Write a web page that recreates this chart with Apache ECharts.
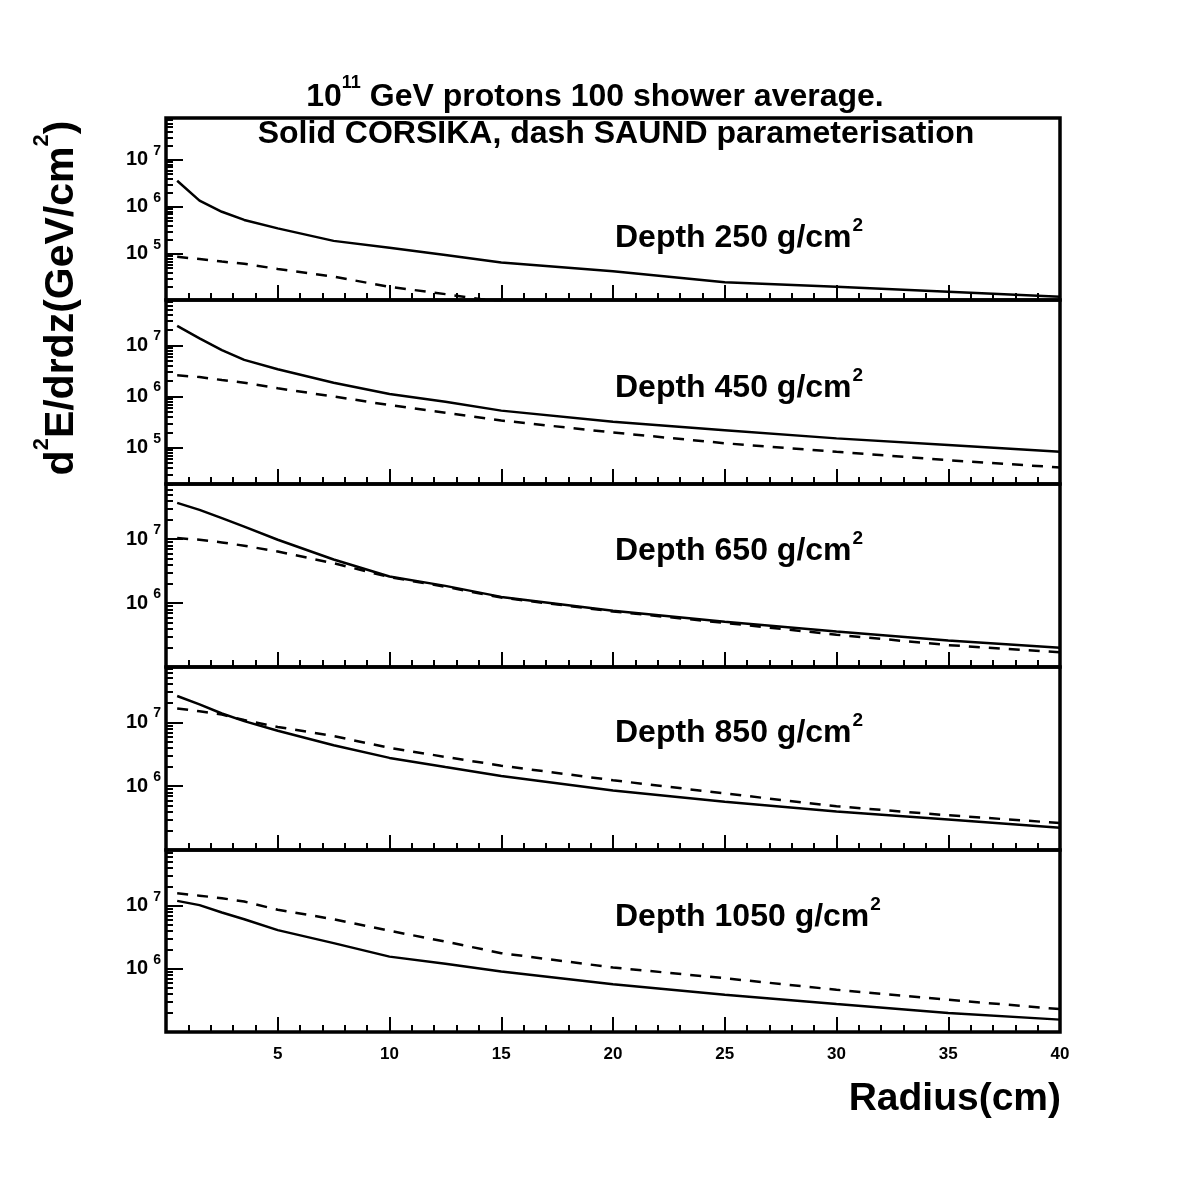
<!DOCTYPE html>
<html>
<head>
<meta charset="utf-8">
<script src="https://cdn.jsdelivr.net/npm/echarts@6/dist/echarts.min.js"></script>
<style>
  html, body { margin: 0; padding: 0; background: #fff; }
  #chart { width: 1181px; height: 1181px; }
</style>
</head>
<body>
<div id="chart"></div>
<script>
// radius sample points (cm)
const radius = [0.5, 1.5, 2.5, 3.5, 5, 7.5, 10, 12.5, 15, 20, 25, 30, 35, 40];
const depths = [250, 450, 650, 850, 1050];

// solid: CORSIKA
const corsika250 = [3.6e6, 1.36e6, 7.9e5, 5.3e5, 3.5e5, 1.9e5, 1.36e5, 9.5e4, 6.6e4, 4.3e4, 2.5e4, 2.0e4, 1.58e4, 1.23e4];
const corsika450 = [2.4e7, 1.37e7, 8.1e6, 5.2e6, 3.4e6, 1.86e6, 1.12e6, 7.9e5, 5.3e5, 3.2e5, 2.2e5, 1.52e5, 1.13e5, 8.3e4];
const corsika650 = [3.7e7, 2.87e7, 2.13e7, 1.57e7, 9.8e6, 4.8e6, 2.6e6, 1.86e6, 1.25e6, 7.6e5, 5.1e5, 3.6e5, 2.6e5, 2.0e5];
const corsika850 = [2.6e7, 1.92e7, 1.38e7, 1.05e7, 7.4e6, 4.4e6, 2.78e6, 2.0e6, 1.45e6, 8.6e5, 5.7e5, 4.0e5, 3.0e5, 2.24e5];
const corsika1050 = [1.19e7, 1.02e7, 7.8e6, 6.1e6, 4.1e6, 2.55e6, 1.56e6, 1.2e6, 9.1e5, 5.7e5, 3.9e5, 2.77e5, 2.0e5, 1.57e5];

// dash: SAUND parameterisation
const saund250 = [8.7e4, 7.8e4, 6.9e4, 6.2e4, 4.8e4, 3.3e4, 2.0e4, 1.4e4, 9.5e3, null, null, null, null, null];
const saund450 = [2.6e6, 2.4e6, 2.1e6, 1.86e6, 1.45e6, 1.0e6, 6.8e5, 4.8e5, 3.4e5, 1.98e5, 1.22e5, 8.3e4, 5.7e4, 4.1e4];
const saund650 = [1.04e7, 9.8e6, 8.9e6, 7.9e6, 6.4e6, 4.2e6, 2.55e6, 1.8e6, 1.22e6, 7.4e5, 4.9e5, 3.2e5, 2.2e5, 1.7e5];
const saund850 = [1.66e7, 1.5e7, 1.33e7, 1.09e7, 8.5e6, 6.1e6, 4.0e6, 2.88e6, 2.1e6, 1.24e6, 7.7e5, 4.85e5, 3.5e5, 2.65e5];
const saund1050 = [1.57e7, 1.44e7, 1.31e7, 1.16e7, 8.6e6, 6.1e6, 4.0e6, 2.7e6, 1.77e6, 1.05e6, 7.1e5, 4.66e5, 3.24e5, 2.3e5];

// y ranges of each pad
const yMin = [1.05e4, 1.95e4, 1.0e5, 1.0e5, 1.0e5];
const yMax = [7.8e7, 7.7e7, 7.3e7, 7.4e7, 7.6e7];

const solid = [corsika250, corsika450, corsika650, corsika850, corsika1050];
const dash = [saund250, saund450, saund650, saund850, saund1050];

const FONT = '"Liberation Sans", Arial, Helvetica, sans-serif';
const tops = [118, 300, 484, 667, 850];
const heights = [182, 184, 183, 183, 182];
const depthY = [236, 386, 549, 731, 915];

function majorTicks(lo, hi) {
  const out = [];
  for (let k = 3; k <= 8; k++) {
    const v = Math.pow(10, k);
    if (v > lo && v < hi) out.push(v);
  }
  return out;
}
function minorTicks(lo, hi) {
  const out = [];
  for (let k = 3; k <= 8; k++) {
    for (let m = 2; m <= 9; m++) {
      const v = m * Math.pow(10, k);
      if (v > lo && v < hi) out.push(v);
    }
  }
  return out;
}
function pts(vals) {
  return radius.map((r, k) => [r, vals[k]]).filter(p => p[1] != null);
}

const chart = echarts.init(document.getElementById('chart'));

const grid = [];
const xAxis = [];
const yAxis = [];
const series = [];
const tickStyle = { color: '#000', width: 2 };

depths.forEach((d, i) => {
  grid.push({
    left: 166, width: 894, top: tops[i], height: heights[i],
    show: true, borderColor: '#000', borderWidth: 3.5, backgroundColor: 'transparent'
  });
  xAxis.push({
    gridIndex: i, type: 'value', min: 0, max: 40, interval: 5,
    axisLine: { show: false },
    axisTick: { inside: true, length: 15, lineStyle: tickStyle },
    minorTick: { show: true, splitNumber: 5, length: 7, lineStyle: tickStyle },
    splitLine: { show: false },
    axisLabel: {
      show: i === 4, margin: 14, color: '#000',
      fontFamily: FONT, fontWeight: 'bold', fontSize: 17,
      formatter: v => (v === 0 ? '' : String(v))
    }
  });
  // minor ticks axis (series live here)
  yAxis.push({
    gridIndex: i, type: 'log', min: yMin[i], max: yMax[i],
    axisLine: { show: false },
    splitLine: { show: false },
    axisTick: { inside: true, length: 7, customValues: minorTicks(yMin[i], yMax[i]), lineStyle: tickStyle },
    axisLabel: { show: false }
  });
  series.push({
    type: 'line', xAxisIndex: i, yAxisIndex: i, data: pts(solid[i]),
    symbol: 'none', lineStyle: { color: '#000', width: 2.5 }, z: 3
  });
  series.push({
    type: 'line', xAxisIndex: i, yAxisIndex: i, data: pts(dash[i]),
    symbol: 'none', lineStyle: { color: '#000', width: 2.5, type: [11, 9] }, z: 3
  });
});

// overlay pads carrying the long decade ticks and labels
depths.forEach((d, i) => {
  grid.push({ left: 166, width: 894, top: tops[i], height: heights[i], show: false });
  xAxis.push({ gridIndex: 5 + i, type: 'value', min: 0, max: 40, show: false });
  const majors = majorTicks(yMin[i], yMax[i]);
  yAxis.push({
    gridIndex: 5 + i, type: 'log', min: yMin[i], max: yMax[i],
    axisLine: { show: false },
    splitLine: { show: false },
    axisTick: { inside: true, length: 17, customValues: majors, lineStyle: tickStyle },
    axisLabel: {
      customValues: majors, margin: 5, color: '#000',
      formatter: v => '{b|10}{s|' + Math.round(Math.log10(v)) + '}',
      rich: {
        b: { fontFamily: FONT, fontWeight: 'bold', fontSize: 20, lineHeight: 32, color: '#000' },
        s: { fontFamily: FONT, fontWeight: 'bold', fontSize: 14, lineHeight: 14, verticalAlign: 'top', padding: [0, 0, 0, 5], color: '#000' }
      }
    }
  });
});

const richBig = {
  m: { fontFamily: FONT, fontWeight: 'bold', fontSize: 32, lineHeight: 45, fill: '#000', color: '#000' },
  s: { fontFamily: FONT, fontWeight: 'bold', fontSize: 18, lineHeight: 18, verticalAlign: 'top', fill: '#000', color: '#000' }
};
const richDepth = {
  m: { fontFamily: FONT, fontWeight: 'bold', fontSize: 32, lineHeight: 44, fill: '#000', color: '#000' },
  s: { fontFamily: FONT, fontWeight: 'bold', fontSize: 19, lineHeight: 19, verticalAlign: 'top', padding: [0, 0, 0, 1], fill: '#000', color: '#000' }
};
const richYTitle = {
  m: { fontFamily: FONT, fontWeight: 'bold', fontSize: 41, lineHeight: 62, fill: '#000', color: '#000' },
  s: { fontFamily: FONT, fontWeight: 'bold', fontSize: 22, lineHeight: 22, verticalAlign: 'top', fill: '#000', color: '#000' }
};

const graphic = [
  {
    type: 'text', x: 595, y: 97,
    style: { text: '{m|10}{s|11}{m| GeV protons 100 shower average.}', rich: richBig, align: 'center', verticalAlign: 'middle' }
  },
  {
    type: 'text', x: 616, y: 134,
    style: { text: 'Solid CORSIKA, dash SAUND parameterisation', font: 'bold 32px ' + FONT, fill: '#000', align: 'center', verticalAlign: 'middle' }
  },
  {
    type: 'text', x: 1061, y: 1099,
    style: { text: 'Radius(cm)', font: 'bold 39px ' + FONT, fill: '#000', align: 'right', verticalAlign: 'middle' }
  },
  {
    type: 'text', x: 62, y: 298, rotation: Math.PI / 2,
    style: { text: '{m|d}{s|2}{m|E/drdz(GeV/cm}{s|2}{m|)}', rich: richYTitle, align: 'center', verticalAlign: 'middle' }
  }
];
depths.forEach((d, i) => {
  graphic.push({
    type: 'text', x: 615, y: depthY[i] + 2,
    style: { text: '{m|Depth ' + d + ' g/cm}{s|2}', rich: richDepth, align: 'left', verticalAlign: 'middle' }
  });
});

chart.setOption({
  backgroundColor: '#fff',
  animation: false,
  grid: grid,
  xAxis: xAxis,
  yAxis: yAxis,
  series: series,
  graphic: graphic
});
</script>
</body>
</html>
